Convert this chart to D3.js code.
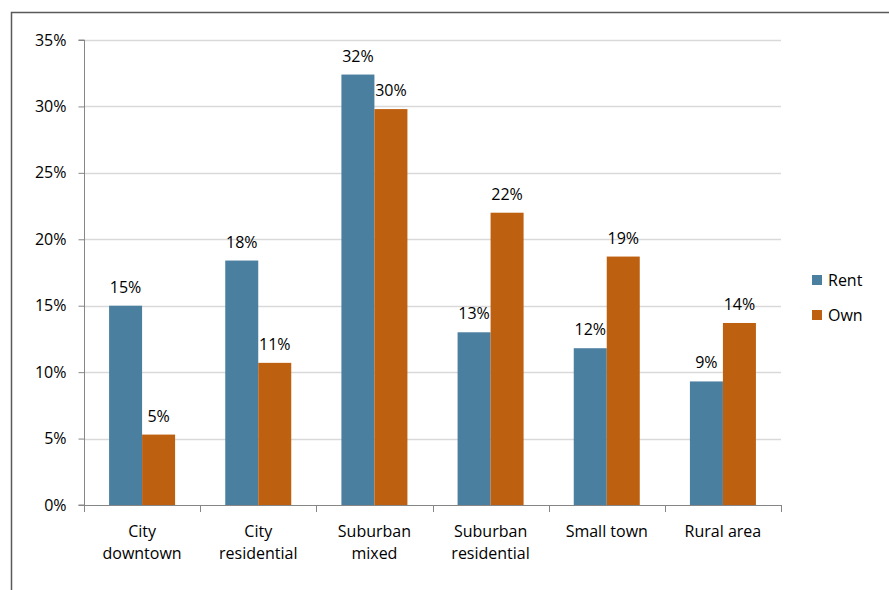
<!DOCTYPE html>
<html>
<head>
<meta charset="utf-8">
<script src="https://cdn.jsdelivr.net/npm/d3@7"></script>
<style>
  html, body { margin: 0; padding: 0; background: #fff; }
  svg { display: block; font-family: "Open Sans", "Noto Sans", sans-serif; }
</style>
</head>
<body>
<svg id="chart" width="889" height="590"></svg>
<script>
// Share of respondents by area type, split by tenure
const categories = [["City", "downtown"], ["City", "residential"], ["Suburban", "mixed"],
                    ["Suburban", "residential"], ["Small town"], ["Rural area"]];
const seriesNames = ["Rent", "Own"];
const rentValues = [0.150, 0.184, 0.324, 0.130, 0.118, 0.093];
const ownValues  = [0.053, 0.107, 0.298, 0.220, 0.187, 0.137];
const yTicks = [0, 0.05, 0.10, 0.15, 0.20, 0.25, 0.30, 0.35];
const colors = ["#4a7f9f", "#bd6010"];

const svg = d3.select("#chart");
const margin = { left: 84, right: 108, top: 40, bottom: 85 };
const fontSize = 16;

// outer frame
svg.append("path")
  .attr("d", "M11.5,600 L11.5,12.5 L900,12.5")
  .attr("fill", "none").attr("stroke", "#595959").attr("stroke-width", 1.5);

const keys = categories.map((d, i) => i);
const x = d3.scaleBand().domain(keys).range([margin.left, 781]).paddingInner(0).paddingOuter(0);
const x1 = d3.scaleBand().domain(seriesNames).range([0, x.bandwidth()]).paddingInner(0).paddingOuter(0.76);
const y = d3.scaleLinear().domain([0, 0.35]).range([505, 40]);

// gridlines
svg.append("g").selectAll("line").data(yTicks.slice(1)).join("line")
  .attr("x1", margin.left).attr("x2", 781)
  .attr("y1", d => Math.round(y(d)) + 0.5).attr("y2", d => Math.round(y(d)) + 0.5)
  .attr("stroke", "#d9d9d9").attr("stroke-width", 1.3);

// bars
const data = keys.map(i => [rentValues[i], ownValues[i]]);
const groups = svg.append("g").selectAll("g").data(data).join("g")
  .attr("transform", (d, i) => `translate(${x(i)},0)`);
groups.selectAll("rect").data(d => d.map((v, j) => ({ v, s: seriesNames[j], j }))).join("rect")
  .attr("x", d => x1(d.s)).attr("width", x1.bandwidth())
  .attr("y", d => y(d.v)).attr("height", d => y(0) - y(d.v))
  .attr("fill", d => colors[d.j]);

// value labels
const fmt = d3.format(".0%");
groups.selectAll("text").data(d => d.map((v, j) => ({ v, s: seriesNames[j] }))).join("text")
  .attr("x", d => x1(d.s) + x1.bandwidth() / 2)
  .attr("y", d => y(d.v) - 13)
  .attr("text-anchor", "middle")
  .attr("font-size", fontSize).attr("fill", "#000")
  .text(d => fmt(d.v));

// y axis
const yAxis = svg.append("g").attr("transform", `translate(${margin.left + 0.5},0)`)
  .call(d3.axisLeft(y).tickValues(yTicks).tickFormat(d3.format(".0%")).tickSize(6).tickPadding(12));
yAxis.select(".domain").attr("stroke", "#868686").attr("d", `M-6,${y(0.35)}H0V${y(0)}H-6`);
yAxis.selectAll(".tick line").attr("stroke", "#868686");
yAxis.selectAll(".tick text").attr("font-size", fontSize).attr("fill", "#000")
  .attr("font-family", "Open Sans, Noto Sans, sans-serif");

// x axis line and category boundary ticks
const xg = svg.append("g");
xg.append("line").attr("x1", margin.left).attr("x2", 781)
  .attr("y1", y(0) + 0.5).attr("y2", y(0) + 0.5).attr("stroke", "#868686");
const bounds = keys.map(i => x(i)).concat([781]);
xg.selectAll("line.t").data(bounds).join("line").attr("class", "t")
  .attr("x1", d => Math.round(d) + 0.5).attr("x2", d => Math.round(d) + 0.5)
  .attr("y1", y(0)).attr("y2", y(0) + 7).attr("stroke", "#868686");

// category labels
const catText = xg.selectAll("text.c").data(categories).join("text").attr("class", "c")
  .attr("text-anchor", "middle").attr("font-size", fontSize).attr("fill", "#000")
  .attr("x", (d, i) => x(i) + x.bandwidth() / 2)
  .attr("y", 537);
catText.selectAll("tspan").data(d => d).join("tspan")
  .attr("x", function () { return d3.select(this.parentNode).attr("x"); })
  .attr("dy", (d, i) => i === 0 ? 0 : 22)
  .text(d => d);

// legend
const leg = svg.append("g").attr("transform", "translate(812,275)");
const li = leg.selectAll("g").data(seriesNames).join("g")
  .attr("transform", (d, i) => `translate(0,${i * 35})`);
li.append("rect").attr("width", 10).attr("height", 10).attr("fill", (d, i) => colors[i]);
li.append("text").attr("x", 16).attr("y", 11).attr("font-size", fontSize).attr("fill", "#000").text(d => d);
</script>
</body>
</html>
